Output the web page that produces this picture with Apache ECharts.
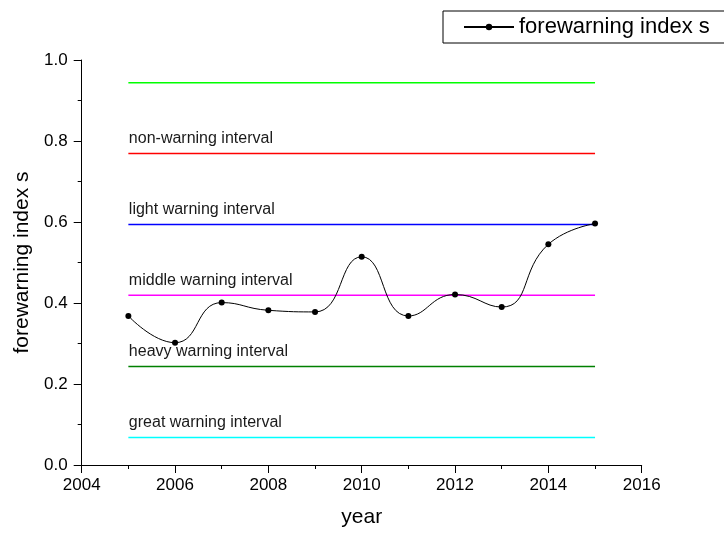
<!DOCTYPE html>
<html>
<head>
<meta charset="utf-8">
<script src="https://cdn.jsdelivr.net/npm/echarts@6/dist/echarts.min.js"></script>
<style>
  html, body { margin: 0; padding: 0; background: #ffffff; }
  #chart { width: 724px; height: 534px; }
</style>
</head>
<body>
<div id="chart"></div>
<script>
// Forewarning index by year
const years = [2005, 2006, 2007, 2008, 2009, 2010, 2011, 2012, 2013, 2014, 2015];
const indexValues = [0.368, 0.302, 0.401, 0.382, 0.378, 0.514, 0.368, 0.421, 0.390, 0.545, 0.596];

// Interval boundaries (horizontal reference lines) and their captions
const boundaryValues = [0.944, 0.769, 0.594, 0.419, 0.243, 0.068];
const boundaryNames = ['', 'non-warning interval', 'light warning interval',
  'middle warning interval', 'heavy warning interval', 'great warning interval'];
const boundaryColors = ['#00ff00', '#ff0000', '#0000ff', '#ff00ff', '#008000', '#00ffff'];

const xTicks = { min: 2004, max: 2016, step: 2 };
const yTicks = { min: 0, max: 1, step: 0.2 };

const FONT = '"Liberation Sans", Arial, sans-serif';

const chart = echarts.init(document.getElementById('chart'), null, { renderer: 'canvas' });

const lineStart = years[0];
const lineEnd = years[years.length - 1];

// One thin horizontal series per boundary, captioned at its left end
const boundarySeries = boundaryValues.map((v, i) => ({
  name: 'boundary-' + i,
  type: 'line',
  silent: true,
  z: 1,
  symbol: 'circle',
  symbolSize: 1,
  showSymbol: true,
  itemStyle: { color: 'rgba(0,0,0,0)' },
  lineStyle: { color: boundaryColors[i], width: 1.5 },
  emphasis: { disabled: true },
  data: [
    {
      value: [lineStart, v],
      label: {
        show: boundaryNames[i] !== '',
        formatter: boundaryNames[i],
        position: 'right',
        offset: [-5, -15],
        color: '#1a1a1a',
        fontFamily: FONT,
        fontSize: 16
      }
    },
    { value: [lineEnd, v], label: { show: false } }
  ]
}));

const axisCommon = {
  axisLine: { show: true, onZero: false, lineStyle: { color: '#000', width: 1 } },
  axisTick: { show: true, inside: false, length: 8, lineStyle: { color: '#000', width: 1 } },
  minorTick: { show: true, splitNumber: 2, length: 4, lineStyle: { color: '#000', width: 1 } },
  splitLine: { show: false },
  minorSplitLine: { show: false },
  nameLocation: 'middle',
  nameTextStyle: { fontFamily: FONT, fontSize: 21, color: '#000' }
};

chart.setOption({
  backgroundColor: '#ffffff',
  animation: false,
  textStyle: { fontFamily: FONT },
  grid: { left: 81.7, right: 82.3, top: 60, bottom: 69, containLabel: false },
  legend: {
    data: ['forewarning index s'],
    left: 443,
    top: 11,
    padding: [5, 30, 5, 20],
    borderColor: '#000',
    borderWidth: 1,
    itemWidth: 50,
    itemHeight: 8,
    itemGap: 0,
    textStyle: { fontFamily: FONT, fontSize: 22, color: '#000' }
  },
  xAxis: Object.assign({}, axisCommon, {
    type: 'value',
    min: xTicks.min,
    max: xTicks.max,
    interval: xTicks.step,
    name: 'year',
    nameGap: 42,
    axisLabel: {
      margin: 12,
      fontFamily: FONT,
      fontSize: 17,
      color: '#000',
      formatter: v => String(v)
    }
  }),
  yAxis: Object.assign({}, axisCommon, {
    type: 'value',
    min: yTicks.min,
    max: yTicks.max,
    interval: yTicks.step,
    name: 'forewarning index s',
    nameGap: 46,
    nameRotate: 90,
    axisLabel: {
      margin: 14,
      fontFamily: FONT,
      fontSize: 17,
      color: '#000',
      formatter: v => v.toFixed(1)
    }
  }),
  series: boundarySeries.concat([
    {
      name: 'forewarning index s',
      type: 'line',
      data: years.map((y, i) => [y, indexValues[i]]),
      smooth: 0.5,
      symbol: 'circle',
      symbolSize: 6,
      z: 5,
      lineStyle: { color: '#000', width: 1 },
      itemStyle: { color: '#000' }
    }
  ])
});
</script>
</body>
</html>
